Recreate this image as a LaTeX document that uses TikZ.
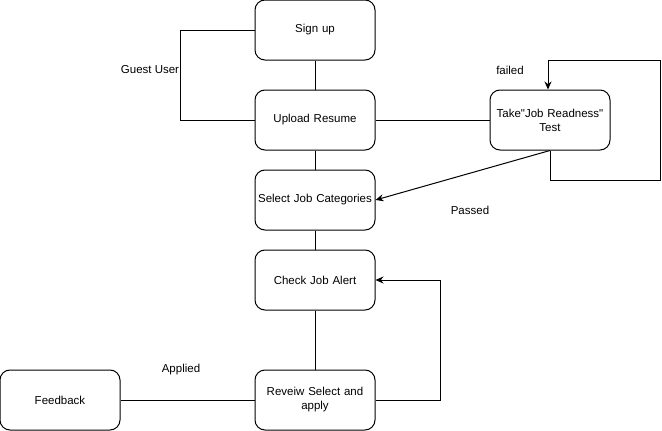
\documentclass[tikz,border=0pt]{standalone}
\usepackage{fontspec}
\setmainfont{Liberation Sans}
\usetikzlibrary{arrows.meta}
\begin{document}
\begin{tikzpicture}[x=1pt,y=-1pt,
  box/.style={draw, line width=1pt, rounded corners=10pt, minimum width=120pt, minimum height=60pt, align=center, text width=118pt, font=\fontsize{11.5}{14}\selectfont, inner sep=0pt},
  conn/.style={line width=1pt},
  arr/.style={line width=1pt, -{Stealth[length=8pt,width=7pt]}},
  lbl/.style={font=\fontsize{11.5}{14}\selectfont, inner sep=0pt}]
\useasboundingbox (0,0) rectangle (662,431);
\node[box] (signup) at (315,30) {Sign up};
\node[box] (upload) at (315,120) {Upload Resume};
\node[box] (test) at (550,120) {Take\textquotedbl Job Readness\textquotedbl\\Test};
\node[box] (select) at (315,200) {Select Job Categories};
\node[box] (check) at (315,280) {Check Job Alert};
\node[box] (review) at (315,400) {Reveiw Select and\\apply};
\node[box] (feedback) at (60,400) {Feedback};
\coordinate (g1) at (180,30);
\coordinate (g2) at (180,120);
\coordinate (f1) at (550,180);
\coordinate (f2) at (660,180);
\coordinate (f3) at (660,60);
\coordinate (f4) at (548,60);
\coordinate (r1) at (440,400);
\coordinate (r2) at (440,280);
\draw[conn] (signup) -- (upload);
\draw[conn] (upload) -- (select);
\draw[conn] (select) -- (check);
\draw[conn] (check) -- (review);
\draw[conn] (signup.west) -- (g1) -- (g2) -- (upload.west);
\draw[conn] (upload.east) -- (test.west);
\draw[arr] (test.south) -- (f1) -- (f2) -- (f3) -- (f4) -- (f4 |- test.north);
\draw[arr] (test.south) -- (select.east);
\draw[arr] (review.east) -- (r1) -- (r2) -- (check.east);
\draw[conn] (review.west) -- (feedback.east);
\node[lbl] (lguest) at (150,70) {Guest User};
\node[lbl] (lfailed) at (510,70) {failed};
\node[lbl] (lpassed) at (470,210) {Passed};
\node[lbl] (lapplied) at (181,370) {Applied};
\end{tikzpicture}
\end{document}
